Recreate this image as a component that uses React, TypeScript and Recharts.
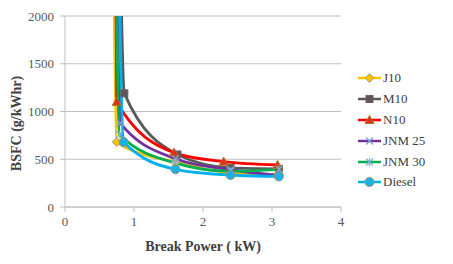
import { LineChart, Line, XAxis, YAxis, CartesianGrid } from "recharts";

// break power (kW) and BSFC (g/kWhr) per fuel; first point sits above the plot top
const j10X = [0.67, 0.75, 1.6, 2.4, 3.1];
const j10Y = [6000, 680, 470, 360, 340];
const m10X = [0.74, 0.86, 1.63, 2.4, 3.1];
const m10Y = [6000, 1190, 550, 410, 400];
const n10X = [0.7, 0.75, 1.58, 2.3, 3.08];
const n10Y = [6000, 1100, 570, 475, 440];
const jnm25X = [0.74, 0.8, 1.6, 2.4, 3.1];
const jnm25Y = [6000, 880, 505, 390, 330];
const jnm30X = [0.69, 0.79, 1.6, 2.4, 3.1];
const jnm30Y = [6000, 760, 460, 375, 395];
const dieselX = [0.72, 0.85, 1.6, 2.4, 3.1];
const dieselY = [6000, 680, 395, 335, 320];

const xTicks = [0, 1, 2, 3, 4];
const yTicks = [0, 500, 1000, 1500, 2000];

const toPoints = (xs: number[], ys: number[]) => xs.map((x, i) => ({ x, y: ys[i] }));

const series = [
  { name: "J10", data: toPoints(j10X, j10Y), color: "#FFC000", shape: "diamond", fill: "#FFC000", stroke: "#A0A0A0" },
  { name: "M10", data: toPoints(m10X, m10Y), color: "#595959", shape: "square", fill: "#595959", stroke: "#7a5a5a" },
  { name: "N10", data: toPoints(n10X, n10Y), color: "#FF0000", shape: "triangle", fill: "#E03020", stroke: "#B07020" },
  { name: "JNM 25", data: toPoints(jnm25X, jnm25Y), color: "#7030A0", shape: "x", fill: "none", stroke: "#7FA0D0" },
  { name: "JNM 30", data: toPoints(jnm30X, jnm30Y), color: "#00B050", shape: "star", fill: "none", stroke: "#7FB0D0" },
  { name: "Diesel", data: toPoints(dieselX, dieselY), color: "#00B0F0", shape: "circle", fill: "#1AB0E8", stroke: "#A09070" },
];

const FONT = "Liberation Serif, DejaVu Serif, serif";

function Marker({ cx, cy, shape, fill, stroke }: any) {
  if (cx == null || cy == null) return null;
  const r = 4.5;
  switch (shape) {
    case "diamond":
      return <polygon points={`${cx},${cy - r} ${cx + r},${cy} ${cx},${cy + r} ${cx - r},${cy}`} fill={fill} stroke={stroke} strokeWidth={1} />;
    case "square":
      return <rect x={cx - 3.5} y={cy - 3.5} width={7} height={7} fill={fill} stroke={stroke} strokeWidth={1} />;
    case "triangle":
      return <polygon points={`${cx},${cy - r} ${cx + r},${cy + 3.5} ${cx - r},${cy + 3.5}`} fill={fill} stroke={stroke} strokeWidth={1} />;
    case "x":
      return (
        <g stroke={stroke} strokeWidth={1.2}>
          <line x1={cx - 3.5} y1={cy - 3.5} x2={cx + 3.5} y2={cy + 3.5} />
          <line x1={cx - 3.5} y1={cy + 3.5} x2={cx + 3.5} y2={cy - 3.5} />
        </g>
      );
    case "star":
      return (
        <g stroke={stroke} strokeWidth={1.2}>
          <line x1={cx - 3.5} y1={cy - 3.5} x2={cx + 3.5} y2={cy + 3.5} />
          <line x1={cx - 3.5} y1={cy + 3.5} x2={cx + 3.5} y2={cy - 3.5} />
          <line x1={cx} y1={cy - 4} x2={cx} y2={cy + 4} />
        </g>
      );
    default:
      return <circle cx={cx} cy={cy} r={r} fill={fill} stroke={stroke} strokeWidth={1} />;
  }
}

function LegendBox() {
  return (
    <div style={{ position: "absolute", left: 356, top: 68 }}>
      {series.map((s) => (
        <div key={s.name} style={{ display: "flex", alignItems: "center", height: 20.8, fontFamily: FONT, fontSize: 13, color: "#404040" }}>
          <svg width={26} height={12}>
            <line x1={2} y1={6} x2={25} y2={6} stroke={s.color} strokeWidth={2.5} />
            <Marker cx={13.5} cy={6} shape={s.shape} fill={s.fill} stroke={s.stroke} />
          </svg>
          <span style={{ marginLeft: 1 }}>{s.name}</span>
        </div>
      ))}
    </div>
  );
}

export default function App() {
  return (
    <div style={{ position: "absolute", left: 0, top: 0, width: 453, height: 264, background: "#fff" }}>
      <LineChart width={453} height={264} margin={{ top: 16, right: 112, bottom: 0, left: 0 }}>
        <CartesianGrid vertical={false} stroke="#C0C0C0" strokeWidth={1.2} />
        <XAxis
          type="number"
          dataKey="x"
          domain={[0, 4]}
          ticks={xTicks}
          height={57}
          stroke="#BFBFBF"
          tickSize={5}
          tickMargin={5}
          tick={{ fontFamily: FONT, fontSize: 13, fill: "#595959" }}
          label={{
            content: ({ viewBox }: any) => (
              <text
                x={viewBox.x + viewBox.width / 2}
                y={viewBox.y + 39}
                textAnchor="middle"
                dominantBaseline="central"
                fontFamily={FONT}
                fontSize={14}
                fontWeight="bold"
                fill="#404040"
              >
                Break Power ( kW)
              </text>
            ),
          }}
        />
        <YAxis
          type="number"
          dataKey="y"
          domain={[0, 2000]}
          allowDataOverflow
          ticks={yTicks}
          width={65}
          stroke="#BFBFBF"
          tickSize={5}
          tickMargin={6}
          tick={{ fontFamily: FONT, fontSize: 13, fill: "#595959" }}
          label={{
            content: ({ viewBox }: any) => {
              const cx = viewBox.x + 16;
              const cy = viewBox.y + viewBox.height / 2 + 12;
              return (
                <text
                  x={cx}
                  y={cy}
                  transform={`rotate(-90, ${cx}, ${cy})`}
                  textAnchor="middle"
                  dominantBaseline="central"
                  fontFamily={FONT}
                  fontSize={14}
                  fontWeight="bold"
                  fill="#404040"
                >
                  BSFC (g/kWhr)
                </text>
              );
            },
          }}
        />
        {series.map((s) => (
          <Line
            key={s.name}
            name={s.name}
            data={s.data}
            dataKey="y"
            type="monotone"
            stroke={s.color}
            strokeWidth={2.8}
            isAnimationActive={false}
            dot={(p: any) => <Marker key={`${s.name}-${p.index}`} cx={p.cx} cy={p.cy} shape={s.shape} fill={s.fill} stroke={s.stroke} />}
            activeDot={false}
          />
        ))}
      </LineChart>
      <LegendBox />
    </div>
  );
}
